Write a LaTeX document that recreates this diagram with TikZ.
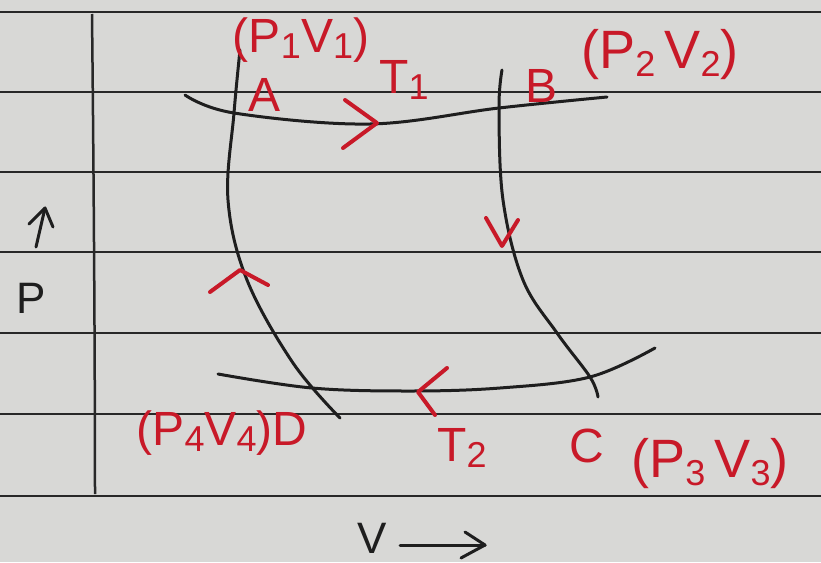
\documentclass[tikz,border=0pt]{standalone}
\usepackage{fontspec}
\setmainfont{Liberation Sans}
\definecolor{paper}{RGB}{216,216,214}
\definecolor{rule}{RGB}{40,40,40}
\definecolor{ink}{RGB}{30,30,30}
\definecolor{redink}{RGB}{200,25,40}
\newcommand{\sbs}[1]{\raisebox{-0.25ex}{\fontsize{36}{38}\selectfont #1}}
\begin{document}
\begin{tikzpicture}[x=1pt,y=-1pt,
  ruled/.style={draw=rule,line width=2pt},
  curve/.style={draw=ink,line width=3pt,line cap=round},
  axarrow/.style={draw=ink,line width=3pt,line cap=round,line join=round},
  chev/.style={draw=redink,line width=4pt,line cap=round,line join=round},
  redlab/.style={text=redink,font=\fontsize{48}{50}\selectfont,inner sep=0pt},
  blklab/.style={text=ink,font=\fontsize{44}{46}\selectfont,inner sep=0pt}]
\useasboundingbox (0,0) rectangle (821,562);
\fill[paper] (0,0) rectangle (821,562);
% ruled lines
\foreach \yy in {12,92,172,252,333,414,496}
  \draw[ruled] (0,\yy) -- (821,\yy);
% margin line
\draw[ruled,line width=2.5pt] (92,14) .. controls (94,200) and (95,380) .. (95,494);
% corner points
\coordinate (A) at (234,113);
\coordinate (B) at (499,108);
\coordinate (C) at (590,377);
\coordinate (D) at (312,388);
% curve ends
\coordinate (t1s) at (185,95);
\coordinate (t1e) at (607,97);
\coordinate (t2s) at (218,374);
\coordinate (t2e) at (655,348);
\coordinate (ads) at (240,50);
\coordinate (ade) at (340,418);
\coordinate (bcs) at (502,70);
\coordinate (bce) at (598,397);
% isotherm T1
\draw[curve] plot[smooth,tension=0.6] coordinates {(t1s) (A) (370,124) (B) (t1e)};
% isotherm T2
\draw[curve] plot[smooth,tension=0.6] coordinates {(t2s) (D) (410,391) (500,388) (C) (t2e)};
% adiabat AD
\draw[curve] plot[smooth,tension=0.6] coordinates {(ads) (A) (228,200) (247,280) (293,363) (ade)};
% adiabat BC
\draw[curve] plot[smooth,tension=0.6] coordinates {(bcs) (B) (503,200) (523,280) (557,333) (C) (bce)};
% red direction chevrons
\draw[chev] (345,100) -- (377,123) -- (343,148);
\draw[chev] (486,218) -- (502,246) -- (518,220);
\draw[chev] (210,292) -- (240,270) -- (268,285);
\draw[chev] (447,368) -- (418,392) -- (435,415);
% red labels
\node[redlab] (lA1) at (301,40) {(P\sbs{1}V\sbs{1})};
\node[redlab] (lA) at (265,95) {A};
\node[redlab] (lT1) at (404,80) {T\sbs{1}};
\node[redlab] (lB) at (541,86) {B};
\node[redlab,font=\fontsize{54}{56}\selectfont] (lB2) at (660,55) {(P\sbs{2}\,V\sbs{2})};
\node[redlab] (lD) at (222,433) {(P\sbs{4}V\sbs{4})D};
\node[redlab] (lT2) at (462,448) {T\sbs{2}};
\node[redlab] (lC) at (587,446) {C};
\node[redlab,font=\fontsize{54}{56}\selectfont] (lC2) at (710,464) {(P\sbs{3}\,V\sbs{3})};
% axis labels
\node[blklab] (lP) at (31,298) {P};
\coordinate (pa1) at (36,247);
\coordinate (pa2) at (45,208);
\draw[axarrow] (pa1) -- (pa2);
\draw[axarrow] (29,224) -- (pa2) -- (53,227);
\node[blklab] (lV) at (372,538) {V};
\coordinate (va1) at (400,545);
\coordinate (va2) at (485,545);
\draw[axarrow] (va1) -- (va2);
\draw[axarrow] (465,532) -- (va2) -- (461,558);
\end{tikzpicture}
\end{document}
